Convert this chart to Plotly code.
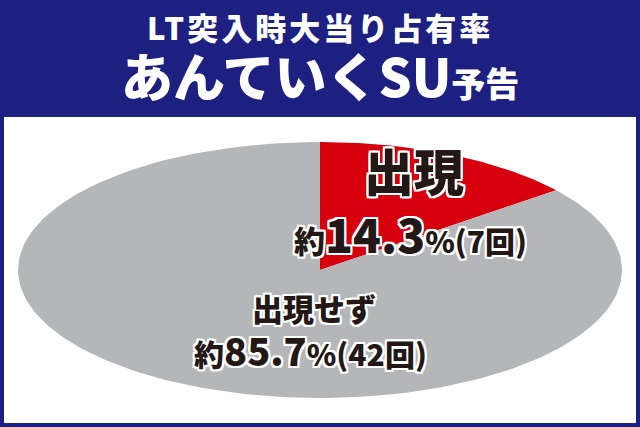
import numpy as np
import plotly.graph_objects as go

# data
labels = ["出現", "出現せず"]
counts = [7, 42]
pcts = ["14.3", "85.7"]
colors = ["#d6000f", "#b5b6b8"]
title_top = "LT突入時大当り占有率"
title_main = "あんていくSU"
title_sub = "予告"

NAVY = "#1d2080"
FONT = "Noto Sans CJK JP"
OUTLINE = ", ".join(f"{dx}px {dy}px 0 white" for dx in (-2, 0, 2) for dy in (-2, 0, 2))

fig = go.Figure()

# pie drawn as sectors, clockwise from 12 o'clock; axes squash it into an ellipse
total = sum(counts)
start = 0.0
for lab, c, col in zip(labels, counts, colors):
    frac = c / total
    t = np.linspace(start, start + frac, 200) * 2 * np.pi
    xs = np.concatenate([[0], np.sin(t), [0]])
    ys = np.concatenate([[0], np.cos(t), [0]])
    fig.add_trace(go.Scatter(x=xs, y=ys, mode="lines", fill="toself", fillcolor=col,
                             line=dict(width=0, color=col), name=lab, hoverinfo="name"))
    start += frac

txt = dict(family=FONT, color="#231815", weight=900, shadow=OUTLINE)
fig.add_annotation(x=0.31, y=0.79, text=labels[0], showarrow=False, font=dict(txt, size=50))
fig.add_annotation(x=0.3, y=0.29,
                   text=f"<span style='font-size:31px'>約</span>{pcts[0]}"
                        f"<span style='font-size:30px'>%({counts[0]}回)</span>",
                   showarrow=False, font=dict(txt, size=46))
fig.add_annotation(x=-0.02, y=-0.29, text=labels[1], showarrow=False, font=dict(txt, size=31))
fig.add_annotation(x=-0.03, y=-0.62,
                   text=f"<span style='font-size:30px'>約</span>{pcts[1]}"
                        f"<span style='font-size:30px'>%({counts[1]}回)</span>",
                   showarrow=False, font=dict(txt, size=38))

# header band and frame
fig.add_shape(type="rect", xref="paper", yref="paper", x0=0, x1=1, y0=1 - 117 / 427, y1=1,
              fillcolor=NAVY, line=dict(width=0), layer="above")
fig.add_shape(type="rect", xref="paper", yref="paper", x0=0, x1=1, y0=0, y1=1,
              line=dict(color=NAVY, width=8), layer="above")
fig.add_annotation(xref="paper", yref="paper", x=0.5, y=1 - 27 / 427, yanchor="middle",
                   text=f"<span style='letter-spacing:3px'>{title_top}</span>", showarrow=False,
                   font=dict(family=FONT, size=31, color="white", weight=900))
fig.add_annotation(xref="paper", yref="paper", x=0.5, y=1 - 75 / 427, yanchor="middle",
                   text=f"{title_main}<span style='font-size:34px'>{title_sub}</span>",
                   showarrow=False, font=dict(family=FONT, size=52, color="white", weight=900))

fig.update_xaxes(range=[-1.0596, 1.0596], visible=False, fixedrange=True)
fig.update_yaxes(range=[-1.2266, 2.1094], visible=False, fixedrange=True)
fig.update_layout(width=640, height=427, margin=dict(l=0, r=0, t=0, b=0),
                  paper_bgcolor="white", plot_bgcolor="white", showlegend=False)

fig.write_html("out.html", config={"displayModeBar": False},
               post_script="document.body.style.margin='0';")
